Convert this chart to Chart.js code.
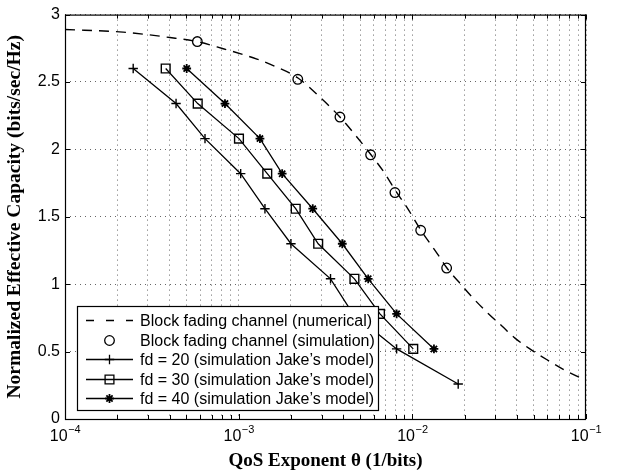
<!DOCTYPE html>
<html>
<head>
<meta charset="utf-8">
<script src="https://cdn.jsdelivr.net/npm/chart.js@4.4.0/dist/chart.umd.min.js"></script>
<style>
  html, body { margin: 0; padding: 0; background: #fff; }
  #wrap { width: 617px; height: 472px; }
</style>
</head>
<body>
<div id="wrap"><canvas id="ecChart" width="617" height="472"></canvas></div>
<script>
// === DATA ===
const seriesNames = [
    "Block fading channel (numerical)",
    "Block fading channel (simulation)",
    "fd = 20 (simulation Jake\u2019s model)",
    "fd = 30 (simulation Jake\u2019s model)",
    "fd = 40 (simulation Jake\u2019s model)"
];

// numerical curve (theta, capacity)
const numTheta = [1.0e-4, 2.16e-4, 4.02e-4, 5.75e-4, 7.5e-4, 1.274e-3, 1.662e-3, 2.195e-3, 2.98e-3, 3.83e-3,
                  4.67e-3, 5.78e-3, 6.96e-3, 7.94e-3, 9.31e-3, 0.01121, 0.01404, 0.01582, 0.0193, 0.02263,
                  0.02723, 0.0328, 0.0390, 0.0482, 0.0604, 0.0746, 0.0947, 0.1];
const numCap   = [2.89, 2.87, 2.83, 2.80, 2.76, 2.67, 2.61, 2.53, 2.38, 2.24,
                  2.11, 1.96, 1.82, 1.70, 1.57, 1.40, 1.22, 1.12, 0.99, 0.89,
                  0.785, 0.69, 0.60, 0.515, 0.435, 0.365, 0.30, 0.287];

// block fading, simulated
const simTheta = [5.78e-4, 2.19e-3, 3.83e-3, 5.75e-3, 7.94e-3, 0.01117, 0.01576];
const simCap   = [2.80, 2.52, 2.24, 1.96, 1.68, 1.40, 1.12];

// Jake's model runs
const fd20Theta = [2.47e-4, 4.36e-4, 6.40e-4, 1.027e-3, 1.417e-3, 2.0e-3, 3.38e-3, 4.55e-3, 8.12e-3, 0.01837];
const fd20Cap   = [2.60, 2.34, 2.08, 1.82, 1.56, 1.30, 1.04, 0.78, 0.52, 0.26];
const fd30Theta = [3.80e-4, 5.81e-4, 1.004e-3, 1.461e-3, 2.13e-3, 2.87e-3, 4.64e-3, 6.51e-3, 0.01012];
const fd30Cap   = [2.60, 2.34, 2.08, 1.82, 1.56, 1.30, 1.04, 0.78, 0.52];
const fd40Theta = [5.02e-4, 8.34e-4, 1.326e-3, 1.78e-3, 2.67e-3, 3.95e-3, 5.57e-3, 8.12e-3, 0.01332];
const fd40Cap   = [2.60, 2.34, 2.08, 1.82, 1.56, 1.30, 1.04, 0.78, 0.52];

// axes
const xDecades = [1e-4, 1e-3, 1e-2, 1e-1];
const xDecadeExp = ["\u22124", "\u22123", "\u22122", "\u22121"];
const yTicks = [0, 0.5, 1, 1.5, 2, 2.5, 3];
const yTickLabels = ["0", "0.5", "1", "1.5", "2", "2.5", "3"];
const xTitle = "QoS Exponent \u03b8 (1/bits)";
const yTitle = "Normalized Effective Capacity (bits/sec/Hz)";

// minor grid: 1..9 per decade
const xGrid = [];
xDecades.forEach((d, i) => {
    if (i === xDecades.length - 1) { xGrid.push(d); return; }
    for (let m = 1; m <= 9; m++) xGrid.push(m * d);
});

const pts = (xs, ys) => xs.map((x, i) => ({ x: x, y: ys[i] }));

const SANS = '"Liberation Sans", Arial, Helvetica, sans-serif';
const SERIF = '"Liberation Serif", "Times New Roman", serif';

// === MARKERS (legend samples) ===
function marker(ctx, kind, x, y) {
    ctx.beginPath();
    if (kind === 'circle') {
        ctx.arc(x, y, 4.8, 0, Math.PI * 2);
    } else if (kind === 'cross') {
        ctx.moveTo(x - 4.7, y); ctx.lineTo(x + 4.7, y);
        ctx.moveTo(x, y - 4.7); ctx.lineTo(x, y + 4.7);
    } else if (kind === 'rect') {
        ctx.rect(x - 4.4, y - 4.4, 8.8, 8.8);
    } else if (kind === 'star') {
        const r = 4.4, d = r * Math.SQRT1_2;
        ctx.moveTo(x - r, y); ctx.lineTo(x + r, y);
        ctx.moveTo(x, y - r); ctx.lineTo(x, y + r);
        ctx.moveTo(x - d, y - d); ctx.lineTo(x + d, y + d);
        ctx.moveTo(x - d, y + d); ctx.lineTo(x + d, y - d);
    }
    ctx.stroke();
}

// === PLUGINS ===
// box round the axes + inward ticks on all four sides
const frameTicks = {
    id: 'frameTicks',
    afterDatasetsDraw(chart) {
        const { ctx, chartArea: a, scales: { x, y } } = chart;
        ctx.save();
        ctx.strokeStyle = '#000';
        ctx.lineWidth = 1;
        ctx.beginPath();
        xGrid.forEach(v => {
            const px = Math.round(x.getPixelForValue(v)) + 0.5;
            const len = xDecades.includes(v) ? 5 : 4;
            ctx.moveTo(px, a.bottom); ctx.lineTo(px, a.bottom - len);
            ctx.moveTo(px, a.top); ctx.lineTo(px, a.top + len);
        });
        yTicks.forEach(v => {
            const py = Math.round(y.getPixelForValue(v)) + 0.5;
            ctx.moveTo(a.left, py); ctx.lineTo(a.left + 5, py);
            ctx.moveTo(a.right, py); ctx.lineTo(a.right - 5, py);
        });
        ctx.stroke();
        ctx.lineWidth = 1.2;
        ctx.strokeRect(a.left + 0.5, a.top + 0.5, a.right - a.left - 1, a.bottom - a.top);
        ctx.restore();
    }
};

// 10^n labels under the x axis
const xPowerLabels = {
    id: 'xPowerLabels',
    afterDraw(chart) {
        const { ctx, chartArea: a, scales: { x } } = chart;
        ctx.save();
        ctx.fillStyle = '#000';
        ctx.textBaseline = 'alphabetic';
        xDecades.forEach((v, i) => {
            const px = x.getPixelForValue(v);
            ctx.font = '16px ' + SANS;
            const wBase = ctx.measureText('10').width;
            ctx.font = '11px ' + SANS;
            const wExp = ctx.measureText(xDecadeExp[i]).width;
            const x0 = px - (wBase + wExp) / 2;
            ctx.font = '16px ' + SANS;
            ctx.textAlign = 'left';
            ctx.fillText('10', x0, a.bottom + 22);
            ctx.font = '11px ' + SANS;
            ctx.fillText(xDecadeExp[i], x0 + wBase + 0.5, a.bottom + 14);
        });
        ctx.restore();
    }
};

// legend box in the lower left of the axes
const legendBox = {
    id: 'legendBox',
    afterDatasetsDraw(chart) {
        const { ctx, chartArea: a } = chart;
        const bx = a.left + 12, by = a.bottom - 113, bw = 301, bh = 104;
        const kinds = [null, 'circle', 'cross', 'rect', 'star'];
        ctx.save();
        ctx.fillStyle = '#fff';
        ctx.fillRect(bx, by, bw, bh);
        ctx.strokeStyle = '#000';
        ctx.lineWidth = 1.2;
        ctx.strokeRect(bx + 0.5, by + 0.5, bw, bh);
        ctx.font = '16px ' + SANS;
        ctx.textBaseline = 'middle';
        ctx.textAlign = 'left';
        seriesNames.forEach((name, i) => {
            const ry = Math.round(by + 14 + i * 19.6) + 0.5;
            const lx0 = bx + 9, lx1 = bx + 56, mx = (lx0 + lx1) / 2;
            ctx.strokeStyle = '#000';
            if (i === 0) {
                ctx.lineWidth = 1.4;
                ctx.setLineDash([8, 12]);
                ctx.beginPath(); ctx.moveTo(lx0, ry); ctx.lineTo(lx1, ry); ctx.stroke();
                ctx.setLineDash([]);
            } else {
                if (i > 1) {
                    ctx.lineWidth = 1.3;
                    ctx.beginPath(); ctx.moveTo(lx0, ry); ctx.lineTo(lx1, ry); ctx.stroke();
                }
                ctx.lineWidth = kinds[i] === 'star' ? 1.8 : 1.3;
                marker(ctx, kinds[i], mx, ry);
            }
            ctx.fillStyle = '#000';
            ctx.fillText(name, bx + 63, ry + 1);
        });
        ctx.restore();
    }
};

// === CHART ===
const lineDs = (label, data, style, radius, pbw) => ({
    label: label,
    data: data,
    showLine: true,
    borderColor: '#000',
    borderWidth: 1.3,
    pointStyle: style,
    pointRadius: radius,
    pointBorderColor: '#000',
    pointBackgroundColor: 'rgba(0,0,0,0)',
    pointBorderWidth: pbw,
    fill: false
});

const ctx = document.getElementById('ecChart').getContext('2d');
new Chart(ctx, {
    type: 'scatter',
    data: {
        datasets: [
            {
                label: seriesNames[0],
                data: pts(numTheta, numCap),
                showLine: true,
                borderColor: '#000',
                borderWidth: 1.4,
                borderDash: [10, 7],
                pointRadius: 0,
                cubicInterpolationMode: 'monotone',
                fill: false
            },
            {
                label: seriesNames[1],
                data: pts(simTheta, simCap),
                showLine: false,
                pointStyle: 'circle',
                pointRadius: 4.8,
                pointBorderColor: '#000',
                pointBackgroundColor: 'rgba(0,0,0,0)',
                pointBorderWidth: 1.3
            },
            lineDs(seriesNames[2], pts(fd20Theta, fd20Cap), 'cross', 4.7, 1.4),
            lineDs(seriesNames[3], pts(fd30Theta, fd30Cap), 'rect', 6.2, 1.4),
            lineDs(seriesNames[4], pts(fd40Theta, fd40Cap), 'star', 4.4, 1.8)
        ]
    },
    options: {
        responsive: false,
        animation: false,
        devicePixelRatio: 1,
        layout: { padding: { top: 8, right: 31, left: 0, bottom: 0 } },
        plugins: { legend: { display: false }, tooltip: { enabled: false } },
        scales: {
            x: {
                type: 'logarithmic',
                min: 1e-4,
                max: 1e-1,
                afterBuildTicks: s => { s.ticks = xGrid.map(v => ({ value: v })); },
                afterFit: s => { s.height = 53; },
                ticks: { display: false },
                grid: { color: '#666', lineWidth: 1, drawTicks: false },
                border: { display: false, dash: [1, 4] },
                title: {
                    display: true, text: xTitle, color: '#000',
                    font: { family: SERIF, size: 19, weight: 'bold' },
                    padding: { top: 0, bottom: 0 }
                }
            },
            y: {
                min: 0,
                max: 3,
                afterBuildTicks: s => { s.ticks = yTicks.map(v => ({ value: v })); },
                afterFit: s => { s.width = 65; },
                ticks: {
                    callback: (v, i) => yTickLabels[i],
                    color: '#000',
                    autoSkip: false,
                    padding: 5,
                    font: { family: SANS, size: 16 }
                },
                grid: { color: '#666', lineWidth: 1, drawTicks: false },
                border: { display: false, dash: [1, 4] },
                title: {
                    display: true, text: yTitle, color: '#000',
                    font: { family: SERIF, size: 19.5, weight: 'bold' },
                    padding: { top: 3, bottom: 0 }
                }
            }
        }
    },
    plugins: [frameTicks, legendBox, xPowerLabels]
});
</script>
</body>
</html>
